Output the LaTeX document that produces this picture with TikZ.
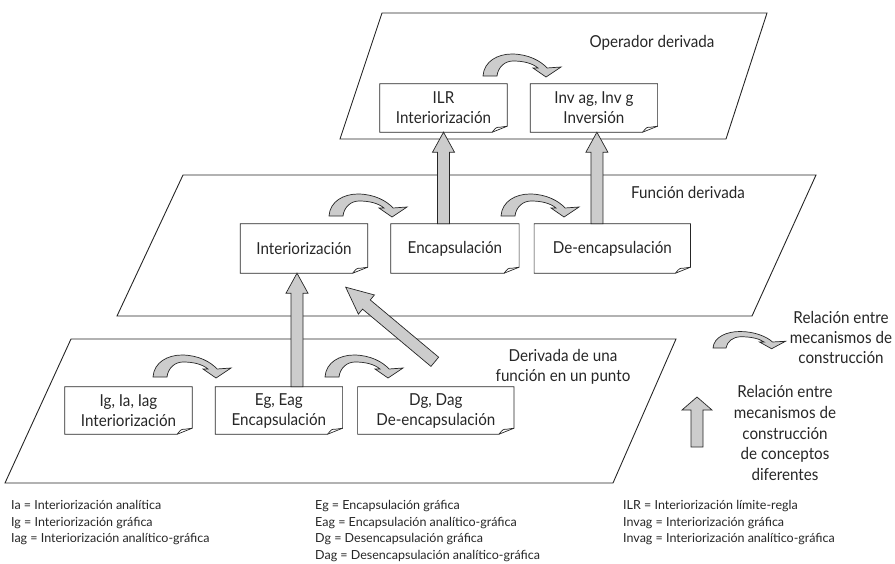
\documentclass[tikz,border=0pt]{standalone}
\usepackage{fontspec}
\setmainfont{Lato}[FakeStretch=0.92]
\newfontfamily\legendfont{Lato}
\usetikzlibrary{positioning,calc}

% dog-eared box outline around a named node
\newcommand\docframe[1]{%
  \draw[docline] (#1.north west) -- (#1.north east) -- ($(#1.south east)+(0,-6)$)
    -- ($(#1.south east)+(-15,0)$) -- (#1.south west) -- cycle;
  \draw[docline] ($(#1.south east)+(-15,0)$) .. controls ($(#1.south east)+(-11,-5)$)
    .. ($(#1.south east)+(-7,-5)$) -- ($(#1.south east)+(0,-6)$);}

% straight block arrow: from, to, head length, head half width
\newcommand\blockarrow[4]{%
  \path (#1) coordinate (ba_s) (#2) coordinate (ba_e);
  \path ($(ba_e)!#3!(ba_s)$) coordinate (ba_h);
  \draw[blockarrow] ($(ba_s)!6pt!90:(ba_e)$) -- ($(ba_h)!6pt!90:(ba_e)$)
    -- ($(ba_h)!#4!90:(ba_e)$) -- (ba_e) -- ($(ba_h)!#4!-90:(ba_e)$)
    -- ($(ba_h)!6pt!-90:(ba_e)$) -- ($(ba_s)!6pt!-90:(ba_e)$) -- cycle;}

\begin{document}
\begin{tikzpicture}[
  x=1pt, y=-1pt,
  node distance=23pt,
  plane/.style={draw=black!85, line width=0.9pt},
  docnode/.style={inner sep=2pt, minimum width=127pt, minimum height=48pt, align=center, text=black!85, font=\fontsize{16.5}{20}\selectfont},
  docline/.style={draw=black!85, line width=0.7pt},
  planetext/.style={align=center, text=black!85, font=\fontsize{16.5}{20}\selectfont},
  legendtext/.style={align=left, anchor=north west, inner sep=0pt, text=black!85, font=\legendfont\fontsize{12.5}{16.7}\selectfont},
  blockarrow/.style={draw=black!85, line width=0.7pt, fill=gray!40},
  curvearrow/.pic={
    \draw[blockarrow] (0,0) .. controls (1,-15) and (15,-22) .. (29,-22)
      .. controls (45,-22) and (58,-15) .. (64,-8) -- (78,-9) -- (63,1) -- (50,-8) -- (55,-8)
      .. controls (49,-13) and (40,-15) .. (30,-15) .. controls (22,-15) and (15,-9) .. (14,0) -- cycle;}
]
\useasboundingbox (0,0) rectangle (895,563);

% Planes
\draw[plane] (382,13) -- (767,13) -- (726,139) -- (340,139) -- cycle;
\draw[plane] (183,175) -- (816,175) -- (752,316) -- (117,316) -- cycle;
\draw[plane] (71,339) -- (676,339) -- (613,483) -- (5,483) -- cycle;

\node[planetext] (top_label) at (652,43) {Operador derivada};
\node[planetext] (mid_label) at (688,192) {Función derivada};
\node[planetext] (bot_label) at (563,367) {Derivada de una\\función en un punto};

% Operador derivada
\node[docnode] (ilr_node) at (443.5,108) {ILR\\Interiorización};
\node[docnode, right=of ilr_node] (inv_node) {Inv ag, Inv g\\Inversión};

% Funcion derivada
\node[docnode, minimum height=49pt] (interior_node) at (304,248.5) {Interiorización};
\node[docnode, minimum height=49pt, minimum width=128pt, right=of interior_node] (encap_node) {Encapsulación};
\node[docnode, minimum height=49pt, minimum width=156pt, right=15pt of encap_node] (deenc_node) {De-encapsulación};

% Derivada en un punto
\node[docnode, minimum height=47pt] (ig_node) at (128.5,410.5) {Ig, Ia, Iag\\Interiorización};
\node[docnode, minimum height=47pt, right=of ig_node] (eg_node) {Eg, Eag\\Encapsulación};
\node[docnode, minimum height=47pt, minimum width=156pt, right=15pt of eg_node] (dg_node) {Dg, Dag\\De-encapsulación};

\foreach \n in {ilr_node, inv_node, interior_node, encap_node, deenc_node, ig_node, eg_node, dg_node}
  \docframe{\n};

% Within a plane
\pic at (483,76) {curvearrow};
\pic at (329,216) {curvearrow};
\pic at (501,216) {curvearrow};
\pic at (153,377) {curvearrow};
\pic at (325,377) {curvearrow};

% Between planes
\blockarrow{ilr_node.south |- encap_node.north}{ilr_node.south}{20pt}{11pt}
\coordinate (inv_end) at ($(inv_node.south)+(3,0)$);
\blockarrow{inv_end |- deenc_node.north}{inv_end}{20pt}{11pt}
\coordinate (int_end) at ($(interior_node.south)+(-7,0)$);
\blockarrow{int_end |- eg_node.north}{int_end}{20pt}{11pt}
\coordinate (diag_tail) at ($(dg_node.north)+(-1,-25)$);
\coordinate (diag_tip) at ($(interior_node.south east)+(-22,14)$);
\blockarrow{diag_tail}{diag_tip}{27pt}{12.5pt}

% Key
\pic[xscale=0.93, yscale=0.75] at (713,348) {curvearrow};
\node[planetext] (rel_same) at (841,337) {Relación entre\\mecanismos de\\construcción};
\coordinate (key_tail) at (697,447);
\coordinate (key_tip) at (697,397);
\blockarrow{key_tail}{key_tip}{13pt}{15pt}
\node[planetext, font=\fontsize{16.5}{20.7}\selectfont] (rel_diff) at (785,433) {Relación entre\\mecanismos de\\construcción\\de conceptos\\diferentes};

\node[legendtext] (leg_int) at (11,500) {Ia = Interiorización analítica\\Ig = Interiorización gráfica\\Iag = Interiorización analítico-gráfica};
\node[legendtext] (leg_enc) at (315,500) {Eg = Encapsulación gráfica\\Eag = Encapsulación analítico-gráfica\\Dg = Desencapsulación gráfica\\Dag = Desencapsulación analítico-gráfica};
\node[legendtext] (leg_inv) at (623,500) {ILR = Interiorización límite-regla\\Invag = Interiorización gráfica\\Invag = Interiorización analítico-gráfica};

\end{tikzpicture}
\end{document}
